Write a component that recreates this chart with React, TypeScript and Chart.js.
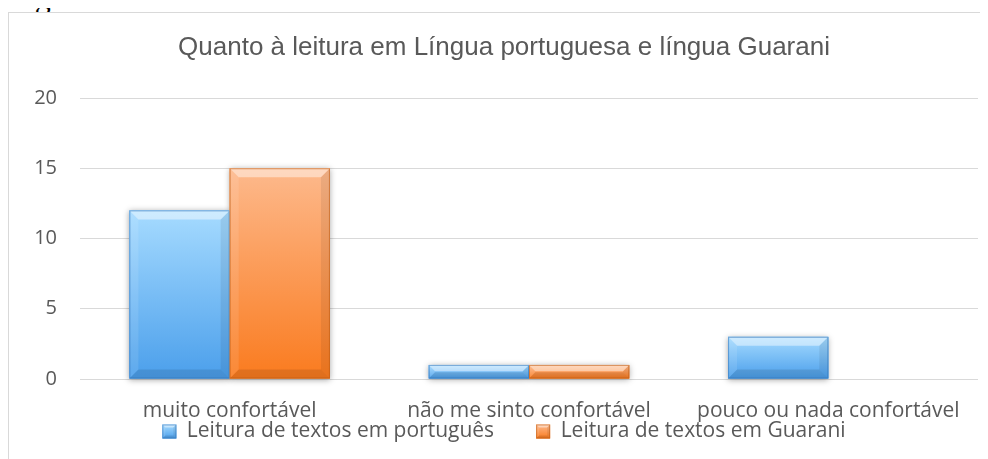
import React, { useEffect, useRef } from 'react';
import { Chart, registerables } from 'chart.js';

Chart.register(...registerables);

const figureLabel = 'Figura 6';
const chartTitle = 'Quanto à leitura em Língua portuguesa e língua Guarani';
const categories = ['muito confortável', 'não me sinto confortável', 'pouco ou nada confortável'];
const seriesNames = ['Leitura de textos em português', 'Leitura de textos em Guarani'];
const portugues = [12, 1, 3];
const guarani = [15, 1, 0];
const yTicks = [0, 5, 10, 15, 20];

const palettes = [
  { top: '#a6dbff', bottom: '#4b9feb', edge: '#2f72b8', solid: '#6db5f3' },
  { top: '#fdb98c', bottom: '#fa7b1f', edge: '#b9570f', solid: '#fc9a55' },
];

const TEXT = '#595959';
const GRID = '#d9d9d9';
const SANS = '"Open Sans", "Noto Sans", sans-serif';

function poly(ctx: CanvasRenderingContext2D, pts: number[][], fill: string) {
  ctx.beginPath();
  ctx.moveTo(pts[0][0], pts[0][1]);
  for (let i = 1; i < pts.length; i++) ctx.lineTo(pts[i][0], pts[i][1]);
  ctx.closePath();
  ctx.fillStyle = fill;
  ctx.fill();
}

function drawBevelBox(ctx: CanvasRenderingContext2D, left: number, top: number, right: number, bottom: number, pal: any, maxBevel: number) {
  const w = right - left;
  const h = bottom - top;
  if (h < 0.5 || w < 0.5) return;
  const b = Math.max(1, Math.min(maxBevel, h / 2 - 0.5, w / 2));
  const g = ctx.createLinearGradient(0, top, 0, bottom);
  g.addColorStop(0, pal.top);
  g.addColorStop(1, pal.bottom);
  ctx.fillStyle = g;
  ctx.fillRect(left, top, w, h);
  poly(ctx, [[left, top], [right, top], [right - b, top + b], [left + b, top + b]], 'rgba(255,255,255,0.45)');
  poly(ctx, [[left, bottom], [right, bottom], [right - b, bottom - b], [left + b, bottom - b]], 'rgba(0,0,0,0.10)');
  poly(ctx, [[left, top], [left + b, top + b], [left + b, bottom - b], [left, bottom]], 'rgba(255,255,255,0.10)');
  poly(ctx, [[right, top], [right - b, top + b], [right - b, bottom - b], [right, bottom]], 'rgba(0,0,0,0.07)');
  ctx.save();
  ctx.globalAlpha = 0.55;
  ctx.strokeStyle = pal.edge;
  ctx.lineWidth = 1;
  ctx.strokeRect(left + 0.5, top + 0.5, w - 1, h - 1);
  ctx.restore();
}

const bevelPlugin = {
  id: 'bevelBars',
  afterDatasetsDraw(chart: any) {
    const ctx: CanvasRenderingContext2D = chart.ctx;
    const rects: any[] = [];
    chart.data.datasets.forEach((_ds: any, di: number) => {
      const meta = chart.getDatasetMeta(di);
      meta.data.forEach((el: any) => {
        const p = el.getProps(['x', 'y', 'base', 'width'], true);
        const left = p.x - p.width / 2;
        const right = p.x + p.width / 2;
        const top = Math.min(p.y, p.base);
        const bottom = Math.max(p.y, p.base);
        if (bottom - top < 0.5) return;
        rects.push({ left, right, top, bottom, pal: palettes[di] });
      });
    });
    ctx.save();
    rects.forEach((r) => {
      ctx.save();
      ctx.shadowColor = 'rgba(0,0,0,0.35)';
      ctx.shadowBlur = 6;
      ctx.shadowOffsetY = 1;
      ctx.fillStyle = r.pal.solid;
      ctx.fillRect(r.left, r.top, r.right - r.left, r.bottom - r.top);
      ctx.restore();
    });
    rects.forEach((r) => drawBevelBox(ctx, r.left, r.top, r.right, r.bottom, r.pal, 9));
    ctx.restore();
  },
  afterDraw(chart: any) {
    const legend = chart.legend;
    if (!legend || !legend.legendHitBoxes) return;
    const ctx: CanvasRenderingContext2D = chart.ctx;
    const lo = legend.options.labels;
    const bw = lo.boxWidth;
    const bh = lo.boxHeight;
    const fontSize = lo.font.size;
    const itemHeight = Math.max(fontSize, bh);
    legend.legendHitBoxes.forEach((hb: any, i: number) => {
      const top = hb.top + (itemHeight - bh) / 2;
      drawBevelBox(ctx, hb.left, top, hb.left + bw, top + bh, palettes[i], 3);
    });
  },
};

export default function App() {
  const ref = useRef<HTMLCanvasElement | null>(null);

  useEffect(() => {
    if (!ref.current) return;
    const chart = new Chart(ref.current, {
      type: 'bar',
      data: {
        labels: categories,
        datasets: [
          { label: seriesNames[0], data: portugues, backgroundColor: palettes[0].solid, borderWidth: 0 },
          { label: seriesNames[1], data: guarani, backgroundColor: palettes[1].solid, borderWidth: 0 },
        ],
      },
      options: {
        responsive: false,
        animation: false,
        devicePixelRatio: 1,
        layout: { padding: { left: 21, right: 21, top: 0, bottom: 21 } },
        datasets: { bar: { categoryPercentage: 0.67, barPercentage: 1.0 } },
        plugins: {
          title: {
            display: true,
            text: chartTitle,
            color: TEXT,
            font: { family: '"Liberation Sans", Arial, sans-serif', size: 26, weight: 'normal', lineHeight: 1.2 },
            padding: { top: 19, bottom: 34.8 },
          },
          legend: {
            position: 'bottom',
            labels: {
              color: TEXT,
              boxWidth: 14,
              boxHeight: 14,
              padding: 42,
              font: { family: SANS, size: 21 },
            },
          },
          tooltip: { enabled: false },
        },
        scales: {
          x: {
            grid: { display: false, drawTicks: false },
            border: { display: false },
            ticks: {
              color: TEXT,
              padding: 19.4,
              maxRotation: 0,
              autoSkip: false,
              font: { family: SANS, size: 21, lineHeight: 1.2 },
            },
            afterFit: (s: any) => {
              s.height = 0;
              s._computeLabelArea = () => undefined;
            },
          },
          y: {
            min: 0,
            max: 20,
            grid: { color: GRID, lineWidth: 1, drawTicks: false },
            border: { display: false },
            ticks: {
              color: TEXT,
              padding: 23,
              font: { family: SANS, size: 20 },
            },
            afterBuildTicks: (s: any) => { s.ticks = yTicks.map((v) => ({ value: v })); },
            afterFit: (s: any) => { s.width = 50; },
          },
        },
      },
      plugins: [bevelPlugin],
    });
    return () => chart.destroy();
  }, []);

  return (
    <div style={{ position: 'relative', paddingTop: 4 }}>
      <div style={{ position: 'absolute', left: 0, top: -8, height: 12, width: 200, overflow: 'hidden' }}>
        <div style={{ position: 'absolute', left: 0, top: -19, fontFamily: '"Liberation Serif", "Times New Roman", serif', fontSize: 32, lineHeight: '32px', whiteSpace: 'nowrap', color: '#000' }}>
          {figureLabel}
        </div>
      </div>
      <div style={{ width: 990, height: 460, border: '1px solid #d9d9d9', background: '#fff', position: 'relative' }}>
        <canvas ref={ref} width={990} height={460} style={{ display: 'block', width: 990, height: 460 }} />
      </div>
    </div>
  );
}
